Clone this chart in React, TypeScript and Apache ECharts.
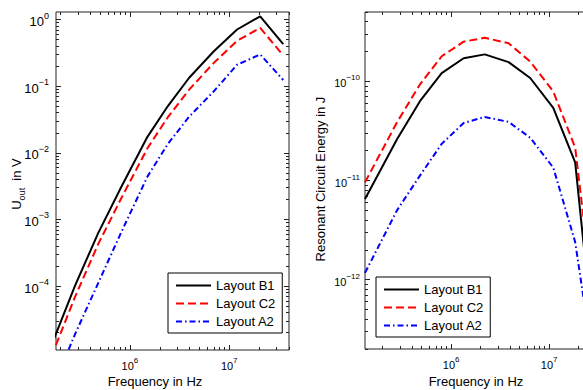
import React, { useEffect, useRef } from "react";
import * as echarts from "echarts";

const FONT = "'Liberation Sans', Arial, sans-serif";

const seriesNames = ["Layout B1", "Layout C2", "Layout A2"];

// Left panel: output voltage
const freqLeft = [1.32e5, 2.8e5, 4.8e5, 8.2e5, 1.5e6, 2.4e6, 3.95e6, 7.0e6, 1.2e7, 2.05e7, 3.5e7];
const uB1 = [6.0e-6, 1.02e-4, 6.3e-4, 3.1e-3, 1.74e-2, 5.0e-2, 0.134, 0.335, 0.71, 1.12, 0.43];
const uC2 = [4.1e-6, 6.9e-5, 4.3e-4, 2.1e-3, 1.17e-2, 3.4e-2, 0.089, 0.224, 0.48, 0.75, 0.29];
const uA2 = [1.3e-6, 1.9e-5, 1.12e-4, 6.5e-4, 4.4e-3, 1.35e-2, 0.035, 0.084, 0.21, 0.3, 0.124];

// Right panel: resonant circuit energy
const freqRight = [1.32e5, 2.8e5, 4.8e5, 8.0e5, 1.34e6, 2.2e6, 3.85e6, 6.4e6, 1.1e7, 1.84e7, 3.3e7];
const eB1 = [6.5e-12, 2.6e-11, 6.3e-11, 1.21e-10, 1.71e-10, 1.87e-10, 1.56e-10, 1.08e-10, 5.4e-11, 1.52e-11, 5.6e-14];
const eC2 = [9.6e-12, 3.86e-11, 9.3e-11, 1.79e-10, 2.51e-10, 2.75e-10, 2.42e-10, 1.58e-10, 7.9e-11, 2.15e-11, 1.66e-13];
const eA2 = [1.17e-12, 5.0e-12, 1.12e-11, 2.34e-11, 3.8e-11, 4.37e-11, 3.9e-11, 2.7e-11, 1.35e-11, 2.4e-12, 5.0e-14];

// Axis ranges and tick values
const leftXRange = [1.8e5, 4e7];
const leftYRange = [1.1e-5, 1.3];
const rightXRange = [1.32e5, 3.4e7];
const rightYRange = [2e-13, 5e-10];

const leftXMajor = [1e6, 1e7];
const leftYMajor = [1e-4, 1e-3, 1e-2, 1e-1, 1];
const rightXMajor = [1e6, 1e7];
const rightYMajor = [1e-12, 1e-11, 1e-10];

function minorTicks(fromExp: number, toExp: number): number[] {
  const out: number[] = [];
  for (let e = fromExp; e <= toExp; e++) {
    for (let m = 2; m <= 9; m++) out.push(Number((m * Math.pow(10, e)).toPrecision(3)));
  }
  return out;
}

const COLORS = ["#000000", "#ff0000", "#0000ff"];
const DASHES: any[] = ["solid", [8, 4], [6, 3, 1.5, 3]];
const FRAME = "#222222";

function expLabel(v: number) {
  const e = Math.round(Math.log10(v));
  const s = e < 0 ? "\u2212" + Math.abs(e) : String(e);
  return `{b|10}{s|${s}}`;
}

function supRich(base: number, sup: number, pad: number) {
  return {
    b: { fontSize: base, fontFamily: FONT, color: "#000", padding: [pad, 0, 0, 0] },
    s: { fontSize: sup, fontFamily: FONT, color: "#000", verticalAlign: "top" },
  };
}

function axis(
  kind: "x" | "y",
  gridIndex: number,
  position: string,
  range: number[],
  ticks: number[],
  len: number,
  label: any
) {
  return {
    type: "log",
    logBase: 10,
    gridIndex,
    position,
    min: range[0],
    max: range[1],
    axisLine: { show: false },
    splitLine: { show: false },
    minorTick: { show: false },
    axisTick: {
      show: true,
      inside: true,
      length: len,
      customValues: ticks,
      lineStyle: { color: FRAME, width: 1 },
    },
    axisLabel: label
      ? {
          show: true,
          customValues: ticks,
          formatter: (v: number) => expLabel(v),
          margin: label.margin,
          rich: label.rich,
        }
      : { show: false },
  };
}

export default function App() {
  const ref = useRef<HTMLDivElement>(null);
  useEffect(() => {
    if (!ref.current) return;
    const chart = echarts.init(ref.current, null, { renderer: "svg" });

    const xLabel = { margin: 6, rich: supRich(11, 8, 4) };
    const yLabelL = { margin: 7, rich: supRich(13, 9, 4) };
    const yLabelR = { margin: 5, rich: supRich(11, 8, 4) };

    const xMinL = minorTicks(5, 7);
    const yMinL = minorTicks(-5, 0);
    const xMinR = minorTicks(5, 7);
    const yMinR = minorTicks(-13, -10);

    const xAxis = [
      axis("x", 0, "bottom", leftXRange, leftXMajor, 5, xLabel),
      axis("x", 0, "bottom", leftXRange, xMinL, 3, null),
      axis("x", 0, "top", leftXRange, leftXMajor, 5, null),
      axis("x", 0, "top", leftXRange, xMinL, 3, null),
      axis("x", 1, "bottom", rightXRange, rightXMajor, 5, xLabel),
      axis("x", 1, "bottom", rightXRange, xMinR, 3, null),
      axis("x", 1, "top", rightXRange, rightXMajor, 5, null),
      axis("x", 1, "top", rightXRange, xMinR, 3, null),
    ];
    const yAxis = [
      axis("y", 0, "left", leftYRange, leftYMajor, 5, yLabelL),
      axis("y", 0, "left", leftYRange, yMinL, 3, null),
      axis("y", 0, "right", leftYRange, leftYMajor, 5, null),
      axis("y", 0, "right", leftYRange, yMinL, 3, null),
      axis("y", 1, "left", rightYRange, rightYMajor, 5, yLabelR),
      axis("y", 1, "left", rightYRange, yMinR, 3, null),
      axis("y", 1, "right", rightYRange, rightYMajor, 5, null),
      axis("y", 1, "right", rightYRange, yMinR, 3, null),
    ];

    const leftData = [uB1, uC2, uA2];
    const rightData = [eB1, eC2, eA2];
    const series: any[] = [];
    seriesNames.forEach((name, i) => {
      series.push({
        type: "line",
        name,
        xAxisIndex: 0,
        yAxisIndex: 0,
        data: freqLeft.map((f, k) => [f, leftData[i][k]]),
        symbol: "none",
        clip: true,
        lineStyle: { color: COLORS[i], width: 2, type: DASHES[i] },
        itemStyle: { color: COLORS[i] },
        z: 3 - i,
      });
      series.push({
        type: "line",
        name,
        xAxisIndex: 4,
        yAxisIndex: 4,
        data: freqRight.map((f, k) => [f, rightData[i][k]]),
        symbol: "none",
        clip: true,
        lineStyle: { color: COLORS[i], width: 2, type: DASHES[i] },
        itemStyle: { color: COLORS[i] },
        z: 3 - i,
      });
    });

    const legendCommon = {
      data: seriesNames,
      orient: "vertical",
      itemWidth: 35,
      itemHeight: 14,
      itemGap: 5,
      padding: [6, 7, 5, 7],
      borderColor: "#000",
      borderWidth: 1,
      backgroundColor: "#fff",
      itemStyle: { opacity: 0 },
      textStyle: { fontSize: 13, fontFamily: FONT, color: "#000" },
      selectedMode: false,
    };

    const titleStyle = (text: string, rich?: any) => ({
      text,
      fontSize: 13,
      fontFamily: FONT,
      fill: "#000",
      align: "center",
      verticalAlign: "middle",
      textAlign: "center",
      textVerticalAlign: "middle",
      rich,
    });

    chart.setOption({
      animation: false,
      backgroundColor: "#fff",
      grid: [
        { left: 56, top: 12, width: 233, height: 338, show: true, borderColor: FRAME, borderWidth: 1, backgroundColor: "#fff", outerBoundsMode: "none", containLabel: false },
        { left: 365, top: 12, width: 236.3, height: 337, show: true, borderColor: FRAME, borderWidth: 1, backgroundColor: "#fff", outerBoundsMode: "none", containLabel: false },
      ],
      xAxis,
      yAxis,
      series,
      legend: [
        { ...legendCommon, left: 168, top: 273 },
        { ...legendCommon, left: 376, top: 277 },
      ],
      graphic: [
        {
          type: "text",
          x: 18,
          y: 184,
          rotation: Math.PI / 2,
          style: titleStyle("{a|U}{s|out}{a|  in V}", {
            a: { fontSize: 13, fontFamily: FONT, color: "#000", padding: [0, 0, 3, 0] },
            s: { fontSize: 9, fontFamily: FONT, color: "#000", verticalAlign: "bottom" },
          }),
        },
        { type: "text", x: 320, y: 179, rotation: Math.PI / 2, style: titleStyle("Resonant Circuit Energy in J") },
        { type: "text", x: 155, y: 381, style: titleStyle("Frequency in Hz") },
        { type: "text", x: 476, y: 381, style: titleStyle("Frequency in Hz") },
      ],
    });

    return () => chart.dispose();
  }, []);

  return (
    <div
      ref={ref}
      style={{ position: "fixed", left: 0, top: 0, width: 583, height: 390, background: "#fff" }}
    />
  );
}
